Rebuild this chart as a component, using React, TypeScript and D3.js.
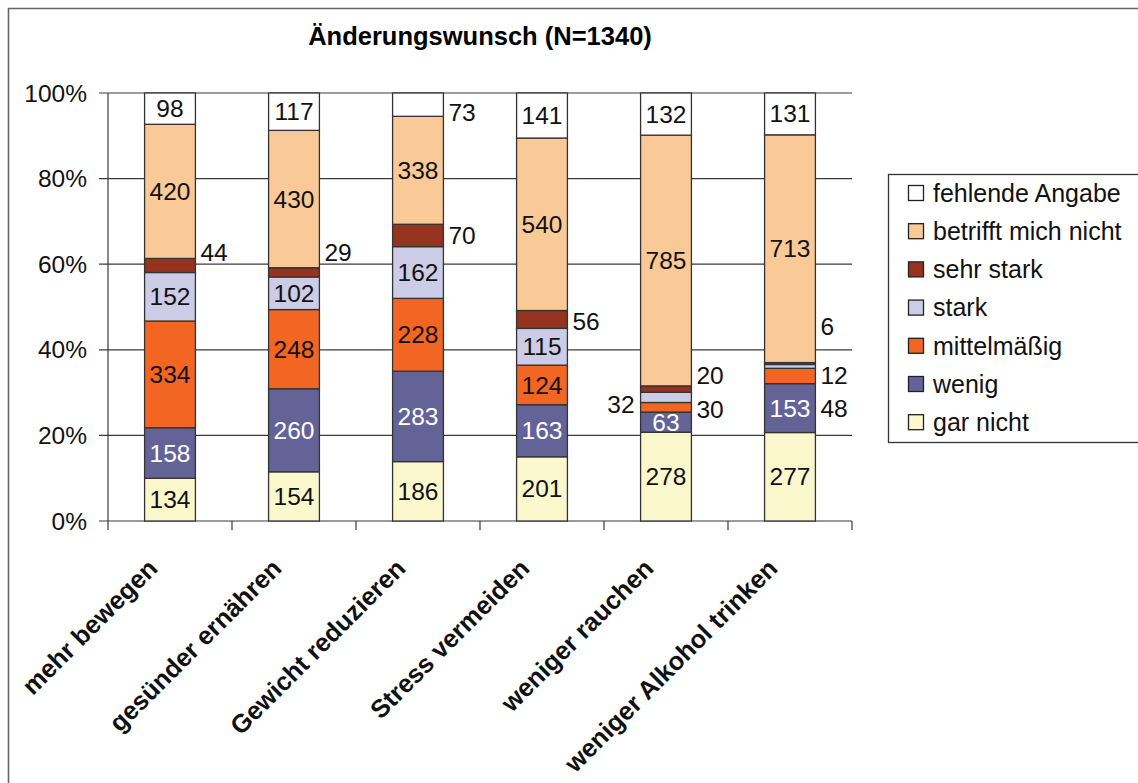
import React from 'react';
import * as d3 from 'd3';

const categories = ['mehr bewegen', 'gesünder ernähren', 'Gewicht reduzieren', 'Stress vermeiden', 'weniger rauchen', 'weniger Alkohol trinken'];

// stacked bottom to top
const seriesNames = ['gar nicht', 'wenig', 'mittelmäßig', 'stark', 'sehr stark', 'betrifft mich nicht', 'fehlende Angabe'];
const garNicht = [134, 154, 186, 201, 278, 277];
const wenig = [158, 260, 283, 163, 63, 153];
const mittelmaessig = [334, 248, 228, 124, 30, 48];
const stark = [152, 102, 162, 115, 32, 12];
const sehrStark = [44, 29, 70, 56, 20, 6];
const betrifftNicht = [420, 430, 338, 540, 785, 713];
const fehlend = [98, 117, 73, 141, 132, 131];
const seriesValues = [garNicht, wenig, mittelmaessig, stark, sehrStark, betrifftNicht, fehlend];

const yTicks = [0, 0.2, 0.4, 0.6, 0.8, 1];

const colors = ['#FBF8CD', '#636397', '#F26522', '#CCCCE6', '#95331F', '#F9CA98', '#FFFFFF'];
const labelColors = ['#111', '#fff', '#111', '#111', '#111', '#111', '#111'];

// labels Excel pushed outside of the bars: [category, series, side, dy]
const outside: [number, number, 'r' | 'l', number][] = [
  [0, 4, 'r', -13],
  [1, 4, 'r', -20],
  [2, 4, 'r', 0],
  [2, 6, 'r', 8],
  [3, 4, 'r', 2],
  [4, 4, 'r', -14],
  [4, 2, 'r', 2],
  [4, 3, 'l', 7],
  [5, 4, 'r', -37],
  [5, 3, 'r', 9],
  [5, 2, 'r', 32],
];

const FONT = 'Liberation Sans, Arial, sans-serif';

export default function App() {
  const rows = categories.map((c, i) => {
    const r: any = { cat: c };
    seriesNames.forEach((s, j) => (r[s] = seriesValues[j][i]));
    return r;
  });
  const stacked = d3.stack().keys(seriesNames).offset(d3.stackOffsetExpand)(rows);

  const x = d3.scaleBand().domain(categories).range([108, 852]).paddingInner(0.59).paddingOuter(0.295);
  const y = d3.scaleLinear().domain([0, 1]).range([521, 93]);
  const bw = x.bandwidth();
  const fmt = d3.format('.0%');

  const legendOrder = [...seriesNames.keys()].reverse();

  return (
    <svg width={1138} height={783} style={{ position: 'absolute', left: 0, top: 0, background: '#fff' }} fontFamily={FONT}>
      <path d="M8.5,790 V8.5 H1145" fill="none" stroke="#666" strokeWidth={1.6} />
      <text x={480} y={45} textAnchor="middle" fontSize={25.5} fontWeight="bold">Änderungswunsch (N=1340)</text>

      {yTicks.map(t => (
        <g key={t}>
          <line x1={99} x2={852} y1={y(t)} y2={y(t)} stroke="#3a3a3a" strokeWidth={1.2} />
          <text x={87} y={y(t)} dy="0.35em" textAnchor="end" fontSize={24.5} fill="#111">{fmt(t)}</text>
        </g>
      ))}
      <line x1={108} x2={108} y1={y(1)} y2={y(0)} stroke="#3a3a3a" strokeWidth={1.2} />
      {d3.range(categories.length + 1).map(i => {
        const bx = x.range()[0] + i * x.step();
        return <line key={i} x1={bx} x2={bx} y1={y(0)} y2={y(0) + 9} stroke="#3a3a3a" strokeWidth={1.2} />;
      })}

      {stacked.map((s, j) => (
        <g key={s.key}>
          {s.map((d, i) => (
            <rect key={i} x={x(categories[i])!} y={y(d[1])} width={bw} height={y(d[0]) - y(d[1])}
              fill={colors[j]} stroke="#333" strokeWidth={1.3} />
          ))}
        </g>
      ))}

      {stacked.map((s, j) => s.map((d, i) => {
        const o = outside.find(p => p[0] === i && p[1] === j);
        const cx = x(categories[i])! + bw / 2;
        const cy = (y(d[0]) + y(d[1])) / 2;
        const v = seriesValues[j][i];
        if (o) {
          const right = o[2] === 'r';
          return (
            <text key={`${j}-${i}`} x={right ? cx + bw / 2 + 5 : cx - bw / 2 - 6} y={cy + o[3]} dy="0.35em"
              textAnchor={right ? 'start' : 'end'} fontSize={24.5} fill="#111">{v}</text>
          );
        }
        return (
          <text key={`${j}-${i}`} x={cx} y={cy} dy="0.35em" textAnchor="middle" fontSize={24.5} fill={labelColors[j]}>{v}</text>
        );
      }))}

      {categories.map(c => (
        <text key={c} transform={`translate(${x(c)! + bw / 2 - 11},${570}) rotate(-45)`} textAnchor="end"
          fontSize={25.5} fontWeight="bold" fill="#111">{c}</text>
      ))}

      <rect x={888.5} y={174.5} width={260} height={268} fill="#fff" stroke="#333" strokeWidth={1.3} />
      {legendOrder.map((j, k) => {
        const ly = 193 + k * 38.2;
        return (
          <g key={j}>
            <rect x={908.5} y={ly - 7.5} width={15} height={15} fill={colors[j]} stroke="#222" strokeWidth={1.3} />
            <text x={933} y={ly} dy="0.35em" fontSize={25} fill="#111">{seriesNames[j]}</text>
          </g>
        );
      })}
    </svg>
  );
}
